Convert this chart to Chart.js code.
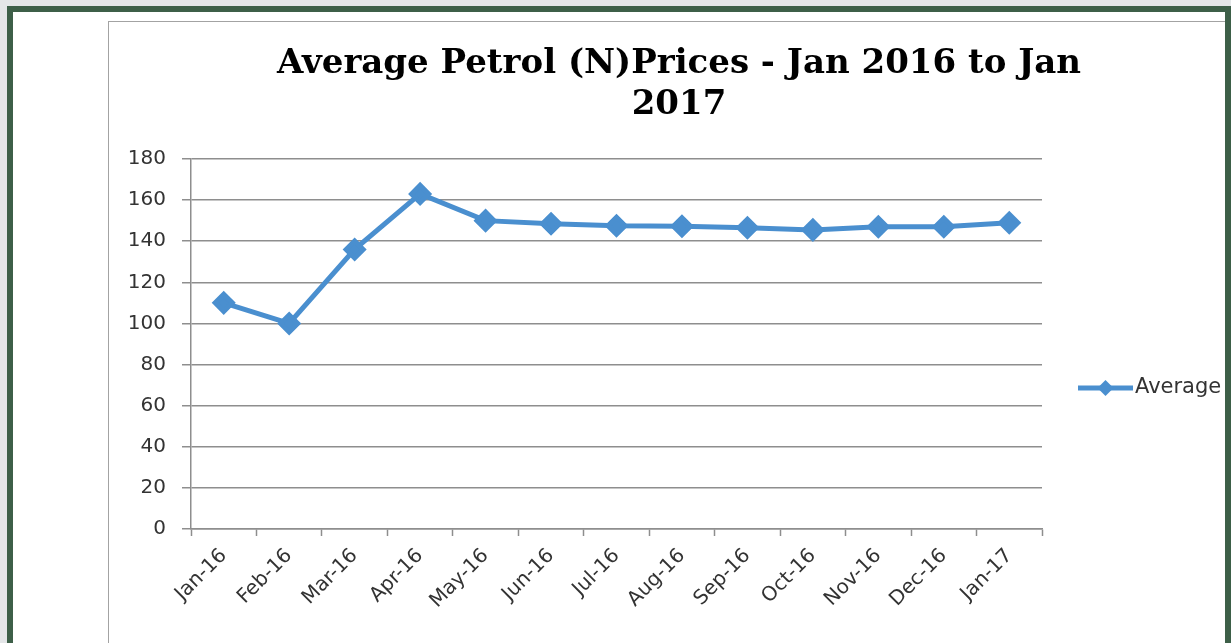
<!DOCTYPE html>
<html>
<head>
<meta charset="utf-8">
<script src="https://cdn.jsdelivr.net/npm/chart.js@4"></script>
<style>
    body { margin: 0; width: 1231px; height: 643px; overflow: hidden; background: #e4e6e8; }
    #outer {
        position: absolute; left: 7px; top: 6px; right: 0; bottom: -20px;
        border: 6px solid #3d5f48; border-bottom: none; background: #fff; overflow: hidden;
    }
    #frame {
        position: absolute; left: 95px; top: 9px; width: 1125px; height: 700px;
        border: 1.5px solid #a3a3a3;
    }
    #wrap { position: absolute; left: 97px; top: 11px; width: 1138px; height: 620px; }
</style>
</head>
<body>
<div id="outer">
    <div id="frame"></div>
    <div id="wrap"><canvas id="myChart"></canvas></div>
</div>
<script>
// data
const months = ['Jan-16', 'Feb-16', 'Mar-16', 'Apr-16', 'May-16', 'Jun-16', 'Jul-16',
    'Aug-16', 'Sep-16', 'Oct-16', 'Nov-16', 'Dec-16', 'Jan-17'];
const average = [110, 100, 136, 163, 150, 148.5, 147.5, 147.3, 146.5, 145.5, 147, 147, 149];
const titleLines = ['Average Petrol (N)Prices - Jan 2016 to Jan', '2017'];
const yMin = 0, yMax = 180, yStep = 20;

const blue = '#4a8fcf';
const gridGrey = '#8e8e8e';

// legend drawn on the right like excel
const sideLegend = {
    id: 'sideLegend',
    afterDraw(chart) {
        const ctx = chart.ctx;
        const ds = chart.data.datasets[0];
        const y = 365;
        ctx.save();
        ctx.strokeStyle = ds.borderColor;
        ctx.lineWidth = 5;
        ctx.beginPath();
        ctx.moveTo(968, y);
        ctx.lineTo(1023, y);
        ctx.stroke();
        ctx.fillStyle = ds.borderColor;
        ctx.beginPath();
        ctx.moveTo(995.5, y - 8);
        ctx.lineTo(1003.5, y);
        ctx.lineTo(995.5, y + 8);
        ctx.lineTo(987.5, y);
        ctx.closePath();
        ctx.fill();
        ctx.fillStyle = '#333';
        ctx.font = '21px "DejaVu Sans"';
        ctx.textBaseline = 'middle';
        ctx.textAlign = 'left';
        ctx.fillText(ds.label, 1025, y);
        ctx.restore();
    }
};

const data = {
    labels: months,
    datasets: [{
        label: 'Average',
        data: average,
        borderColor: blue,
        backgroundColor: blue,
        borderWidth: 5,
        pointStyle: 'rectRot',
        pointRadius: 8.5,
        pointHoverRadius: 8.5,
        tension: 0
    }]
};

const config = {
    type: 'line',
    data: data,
    options: {
        responsive: false,
        animation: false,
        layout: { padding: 0 },
        plugins: {
            legend: { display: false },
            tooltip: { enabled: false },
            title: {
                display: true,
                text: titleLines,
                color: '#000',
                font: { family: '"DejaVu Serif"', size: 34, weight: 'bold', lineHeight: 1.22 },
                padding: { top: 20, bottom: 33 }
            }
        },
        scales: {
            x: {
                offset: true,
                grid: { drawOnChartArea: false, offset: true, tickLength: 7, color: gridGrey, tickWidth: 1.5 },
                border: { color: gridGrey, width: 1.5 },
                ticks: {
                    color: '#333',
                    font: { family: '"DejaVu Sans"', size: 20 },
                    maxRotation: 45,
                    minRotation: 45,
                    padding: 8
                },
                afterFit(s) { s.height = 114; }
            },
            y: {
                min: yMin,
                max: yMax,
                ticks: {
                    stepSize: yStep,
                    color: '#333',
                    font: { family: '"DejaVu Sans"', size: 20 },
                    padding: 16
                },
                grid: { color: gridGrey, lineWidth: 1.5, tickLength: 9 },
                border: { color: gridGrey, width: 1.5 },
                afterFit(s) { s.width = 81; }
            },
            // empty space on the right where the legend sits
            side: {
                position: 'right',
                display: true,
                grid: { display: false },
                border: { display: false },
                ticks: { display: false },
                afterFit(s) { s.width = 206; }
            }
        }
    },
    plugins: [sideLegend]
};

const canvas = document.getElementById('myChart');
canvas.width = 1138;
canvas.height = 620;
const myChart = new Chart(canvas, config);
</script>
</body>
</html>
